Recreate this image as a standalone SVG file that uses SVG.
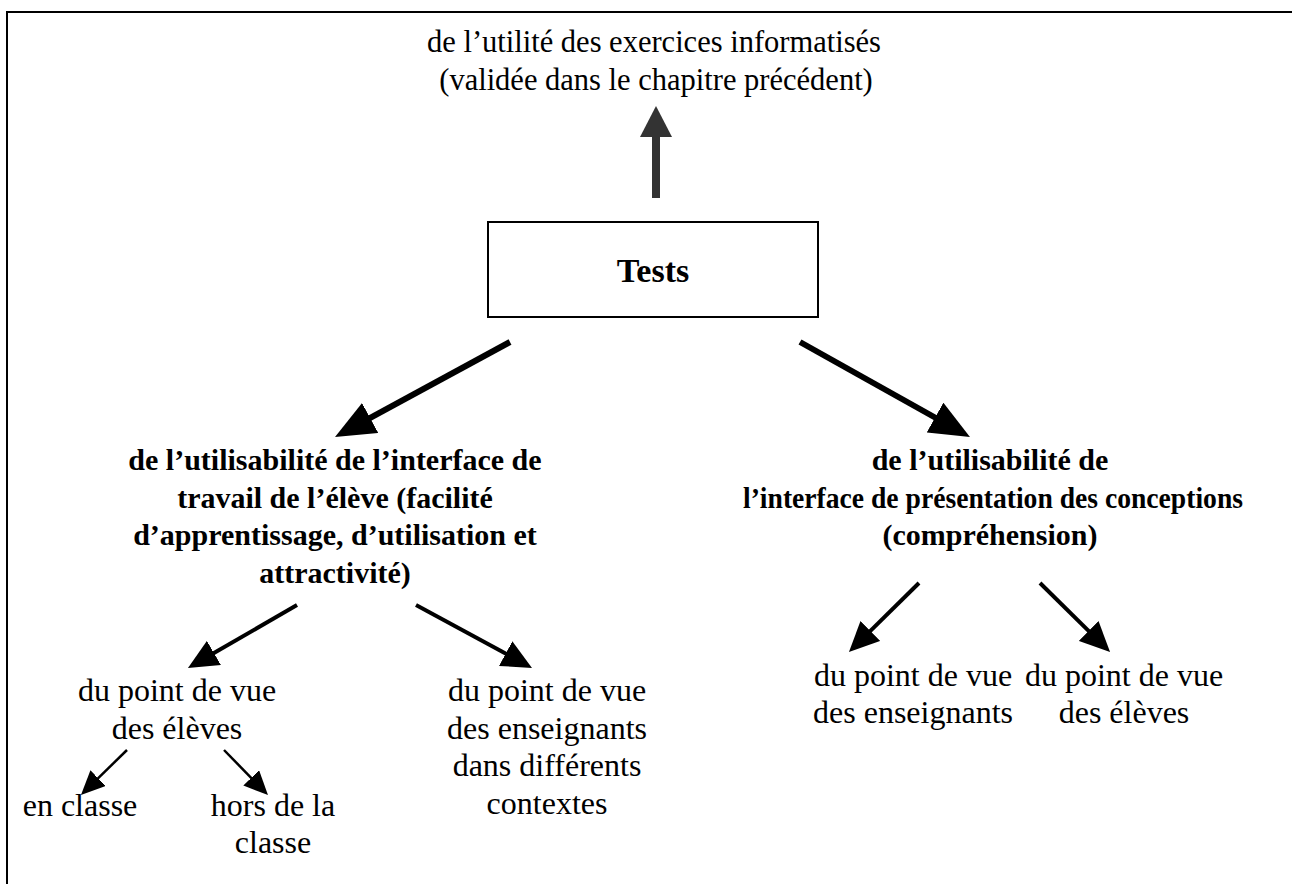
<svg xmlns="http://www.w3.org/2000/svg" width="1292" height="884" viewBox="0 0 1292 884">
<style>
.t{font-family:"Liberation Serif","Times New Roman",serif;font-size:30px;fill:#000;text-anchor:middle}
.r{font-size:32px}
.b{font-weight:bold}
.big{stroke:#000;stroke-width:6;fill:none}
.mid{stroke:#000;stroke-width:4;fill:none}
.sm{stroke:#000;stroke-width:2.5;fill:none}
</style>
<defs>
<marker id="hBig" markerUnits="userSpaceOnUse" markerWidth="40" markerHeight="34" refX="2" refY="17" orient="auto"><path d="M0,0 L40,17 L0,34 z" fill="#000"/></marker>
<marker id="hMid" markerUnits="userSpaceOnUse" markerWidth="30" markerHeight="28" refX="2" refY="14" orient="auto"><path d="M0,0 L30,14 L0,28 z" fill="#000"/></marker>
<marker id="hSm" markerUnits="userSpaceOnUse" markerWidth="24" markerHeight="22" refX="2" refY="11" orient="auto"><path d="M0,0 L24,11 L0,22 z" fill="#000"/></marker>
</defs>
<rect width="1292" height="884" fill="#fff"/>
<path d="M7,884 V12 H1292" fill="none" stroke="#000" stroke-width="2"/>

<g id="top">
<text class="t" x="654" y="52" style="font-size:30.5px">de l’utilité des exercices informatisés</text>
<text class="t" x="656" y="90" style="font-size:30.5px">(validée dans le chapitre précédent)</text>
</g>
<g id="tests">
<rect x="488" y="222" width="330" height="95" fill="#fff" stroke="#000" stroke-width="2"/>
<text class="t b" x="653" y="282" style="font-size:34px">Tests</text>
</g>
<g id="interface-eleve">
<text class="t b" x="335" y="470">de l’utilisabilité de l’interface de</text>
<text class="t b" x="335" y="508">travail de l’élève (facilité</text>
<text class="t b" x="335" y="545">d’apprentissage, d’utilisation et</text>
<text class="t b" x="335" y="583">attractivité)</text>
</g>
<g id="interface-conceptions">
<text class="t b" x="990" y="470">de l’utilisabilité de</text>
<text class="t b" x="993" y="508" textLength="500" lengthAdjust="spacingAndGlyphs">l’interface de présentation des conceptions</text>
<text class="t b" x="990" y="545">(compréhension)</text>
</g>
<g id="pv-eleves-1">
<text class="t r" x="177" y="701">du point de vue</text>
<text class="t r" x="177" y="739">des élèves</text>
</g>
<g id="pv-enseignants-1">
<text class="t r" x="547" y="701">du point de vue</text>
<text class="t r" x="547" y="739">des enseignants</text>
<text class="t r" x="547" y="776">dans différents</text>
<text class="t r" x="547" y="814">contextes</text>
</g>
<g id="en-classe">
<text class="t r" x="80" y="816">en classe</text>
</g>
<g id="hors-classe">
<text class="t r" x="273" y="816">hors de la</text>
<text class="t r" x="273" y="853">classe</text>
</g>
<g id="pv-enseignants-2">
<text class="t r" x="913" y="686">du point de vue</text>
<text class="t r" x="913" y="723">des enseignants</text>
</g>
<g id="pv-eleves-2">
<text class="t r" x="1124" y="686">du point de vue</text>
<text class="t r" x="1124" y="723">des élèves</text>
</g>

<g id="connectors">
<line x1="656" y1="198" x2="656" y2="132" stroke="#333" stroke-width="8"/>
<polygon points="656,106 640,137 672,137" fill="#333"/>
<line class="big" x1="510" y1="342" x2="368.4" y2="418.9" marker-end="url(#hBig)"/>
<line class="big" x1="800" y1="342" x2="936.8" y2="418.5" marker-end="url(#hBig)"/>
<line class="mid" x1="297" y1="605" x2="212.2" y2="654" marker-end="url(#hMid)"/>
<line class="mid" x1="416" y1="605" x2="507.4" y2="654.6" marker-end="url(#hMid)"/>
<line class="mid" x1="919" y1="583" x2="868.9" y2="632.4" marker-end="url(#hMid)"/>
<line class="mid" x1="1040" y1="583" x2="1090.1" y2="632.4" marker-end="url(#hMid)"/>
<line class="sm" x1="127" y1="750" x2="96.7" y2="779.6" marker-end="url(#hSm)"/>
<line class="sm" x1="224" y1="750" x2="252.6" y2="779.3" marker-end="url(#hSm)"/>
</g>
</svg>
